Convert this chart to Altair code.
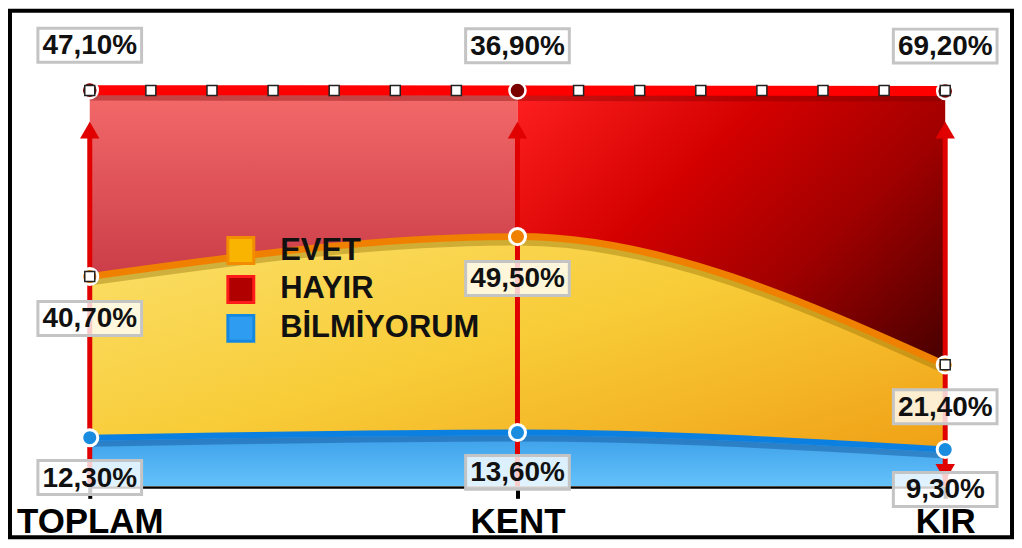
import altair as alt
import pandas as pd

# ---- data ----
categories = ["TOPLAM", "KENT", "KIR"]
evet = [40.7, 49.5, 21.4]
hayir = [47.1, 36.9, 69.2]
bilmiyorum = [12.3, 13.6, 9.3]
legend_names = ["EVET", "HAYIR", "BİLMİYORUM"]

FONT = "Liberation Sans"
W, H = 858, 397
ARROW_TIP = 90      # % level of the arrow heads
DOWN_TIP = 3.5      # % level of the down arrow head at KIR
MARKS_PER_SEG = 7   # decorative squares on the top line


def fmt(v):
    return f"{v:.2f}".replace(".", ",") + "%"


pos = list(range(len(categories)))
df = pd.DataFrame({"pos": pos, "cat": categories, "evet": evet,
                   "hayir": hayir, "bilm": bilmiyorum})
df["evet_top"] = df["bilm"] + df["evet"]
df["top"] = df["evet_top"] + df["hayir"]
df["evet_lbl"] = df["evet"].map(fmt)
df["hayir_lbl"] = df["hayir"].map(fmt)
df["bilm_lbl"] = df["bilm"].map(fmt)
df["zero"] = 0
df["tip"] = ARROW_TIP
df["dtip"] = DOWN_TIP

halves = pd.DataFrame({"half": ["L", "R"], "pos": pos[:-1], "b": pos[1:],
                       "full": 100, "zero": 0})

mk = []
for s in pos[:-1]:
    for i in range(MARKS_PER_SEG):
        if s > 0 and i == 0:
            continue
        mk.append(s + i / MARKS_PER_SEG)
mk.append(pos[-1])
markers = pd.DataFrame({"pos": mk, "y": 100})

xs = alt.Scale(domain=[pos[0], pos[-1]], nice=False, zero=False)
ys = alt.Scale(domain=[0, 100], nice=False)
label_expr = "[" + ",".join(f"'{c}'" for c in categories) + "][datum.value]"

AX = alt.Axis(
    values=pos, labelExpr=label_expr, title=None, grid=False,
    domainColor="black", domainWidth=4, tickColor="black", tickWidth=4,
    tickSize=12, labelFont=FONT, labelFontSize=35, labelFontWeight="bold",
    labelColor="black", labelPadding=6, labelFlush=False,
    labelOverlap=False, labelBound=False)
Xn = alt.X("pos:Q", scale=xs, axis=AX)


def Y(f):
    return alt.Y(f"{f}:Q", scale=ys, axis=None)


def vgrad(stops):
    return alt.Gradient(gradient="linear", x1=0, x2=0, y1=0, y2=1,
                        stops=[alt.GradientStop(color=c, offset=o) for o, c in stops])


def dgrad(stops):
    return alt.Gradient(gradient="linear", x1=0, x2=1, y1=0, y2=1,
                        stops=[alt.GradientStop(color=c, offset=o) for o, c in stops])


base = alt.Chart(df)

red_left = alt.Chart(halves).transform_filter(alt.datum.half == "L").mark_rect(
    fill=vgrad([(0, "#f46a6a"), (0.5, "#c83a46"), (1, "#a02030")])
).encode(x=Xn, x2="b:Q", y=Y("full"), y2="zero:Q")

red_right = alt.Chart(halves).transform_filter(alt.datum.half == "R").mark_rect(
    fill=dgrad([(0, "#ff2020"), (0.3, "#d40000"), (0.55, "#a00000"),
                (0.85, "#450000"), (1, "#300000")])
).encode(x=Xn, x2="b:Q", y=Y("full"), y2="zero:Q")

yellow = base.mark_area(interpolate="monotone", fill=dgrad(
    [(0, "#fbe06a"), (0.45, "#f8cc38"), (1, "#ef9a10")])).encode(x=Xn, y=Y("evet_top"))

blue = base.mark_area(interpolate="monotone", fill=vgrad(
    [(0, "#3a9ee8"), (1, "#64c2fa")])).encode(x=Xn, y=Y("bilm"))

top_shadow = base.mark_line(interpolate="monotone", color="#700000", opacity=0.35,
                            strokeWidth=7, yOffset=7).encode(x=Xn, y=Y("top"))
evet_shadow = base.mark_line(interpolate="monotone", color="#806000", opacity=0.35,
                             strokeWidth=6, yOffset=6).encode(x=Xn, y=Y("evet_top"))
bilm_shadow = base.mark_line(interpolate="monotone", color="#003a80", opacity=0.35,
                             strokeWidth=6, yOffset=6).encode(x=Xn, y=Y("bilm"))

evet_line = base.mark_line(interpolate="monotone", color="#f08000",
                           strokeWidth=7).encode(x=Xn, y=Y("evet_top"))
bilm_line = base.mark_line(interpolate="monotone", color="#0b80e0",
                           strokeWidth=6).encode(x=Xn, y=Y("bilm"))
top_line = base.mark_line(interpolate="monotone", color="#ff0000",
                          strokeWidth=10).encode(x=Xn, y=Y("top"))

arrows = base.mark_rule(color="#e00000", strokeWidth=5).encode(
    x=Xn, y=Y("zero"), y2="tip:Q")
heads = base.mark_point(shape="triangle-up", filled=True, color="#e00000",
                        size=380, opacity=1).encode(x=Xn, y=Y("tip"))
down_head = base.transform_filter(alt.datum.pos == pos[-1]).mark_point(
    shape="triangle-down", filled=True, color="#e00000", size=380, opacity=1
).encode(x=Xn, y=Y("dtip"))

top_pts = base.mark_point(shape="circle", filled=True, fill="#7a0000", stroke="white",
                          strokeWidth=2.5, size=260, opacity=1).encode(x=Xn, y=Y("top"))
evet_pts = base.mark_point(shape="circle", filled=True, fill="#f08000", stroke="white",
                           strokeWidth=3, size=260, opacity=1).encode(x=Xn, y=Y("evet_top"))
bilm_pts = base.mark_point(shape="circle", filled=True, fill="#1a8ce0", stroke="white",
                           strokeWidth=3, size=260, opacity=1).encode(x=Xn, y=Y("bilm"))

top_marks = alt.Chart(markers).mark_point(
    shape="square", filled=True, fill="white", stroke="#222", strokeWidth=1.5,
    size=100, opacity=1).encode(x=Xn, y=Y("y"))
evet_marks = base.transform_filter(alt.datum.pos != 1).mark_point(
    shape="square", filled=True, fill="white", stroke="#222", strokeWidth=1.5,
    size=100, opacity=1).encode(x=Xn, y=Y("evet_top"))

BOX = "M-1,-0.327L1,-0.327L1,0.327L-1,0.327Z"
label_layers = []
for field, lbl, yoff in [("top", "hayir_lbl", -45), ("evet_top", "evet_lbl", 42),
                         ("bilm", "bilm_lbl", 40)]:
    label_layers.append(base.mark_point(
        shape=BOX, size=104 ** 2, filled=True, fill="white", fillOpacity=0.8,
        stroke="#c4c4c4", strokeWidth=3, opacity=1, yOffset=yoff
    ).encode(x=Xn, y=Y(field)))
    label_layers.append(base.mark_text(
        font=FONT, fontSize=28, fontWeight="bold", color="#111",
        baseline="middle", align="center", yOffset=yoff + 1
    ).encode(x=Xn, y=Y(field), text=f"{lbl}:N"))

LEG = alt.Legend(orient="none", legendX=136, legendY=145, title=None,
                 symbolType="square", symbolSize=676, symbolStrokeWidth=3,
                 symbolOpacity=1, labelFont=FONT, labelFontSize=31,
                 labelFontWeight="bold", labelColor="#111", labelOffset=24,
                 labelLimit=0, rowPadding=0, padding=0)
leg_df = pd.DataFrame({"name": legend_names})
legend_layer = alt.Chart(leg_df).mark_point(shape="square", filled=True, opacity=0).encode(
    x=alt.value(0), y=alt.value(0),
    fill=alt.Fill("name:N", scale=alt.Scale(domain=legend_names,
                  range=["#f8b400", "#b00000", "#2e9cf0"]), legend=LEG),
    stroke=alt.Stroke("name:N", scale=alt.Scale(domain=legend_names,
                      range=["#f28c00", "#ff1a1a", "#1488e0"]), legend=LEG),
)

frame = alt.Chart(pd.DataFrame({"k": [0]})).mark_rect(
    fillOpacity=0, stroke="black", strokeWidth=4
).encode(x=alt.value(-80), x2=alt.value(925), y=alt.value(-80), y2=alt.value(448))

chart = alt.layer(
    red_left, red_right, yellow, blue,
    top_shadow, evet_shadow, bilm_shadow,
    evet_line, bilm_line, top_line,
    arrows, heads, down_head,
    top_pts, evet_pts, bilm_pts, top_marks, evet_marks,
    *label_layers, legend_layer, frame
).properties(
    width=W, height=H,
    padding={"left": 82, "top": 82, "right": 69, "bottom": 53},
    autosize=alt.AutoSizeParams(type="none"),
    background="white",
).configure_view(stroke=None)

chart.save("out.html", embed_options={"renderer": "svg", "actions": False})
